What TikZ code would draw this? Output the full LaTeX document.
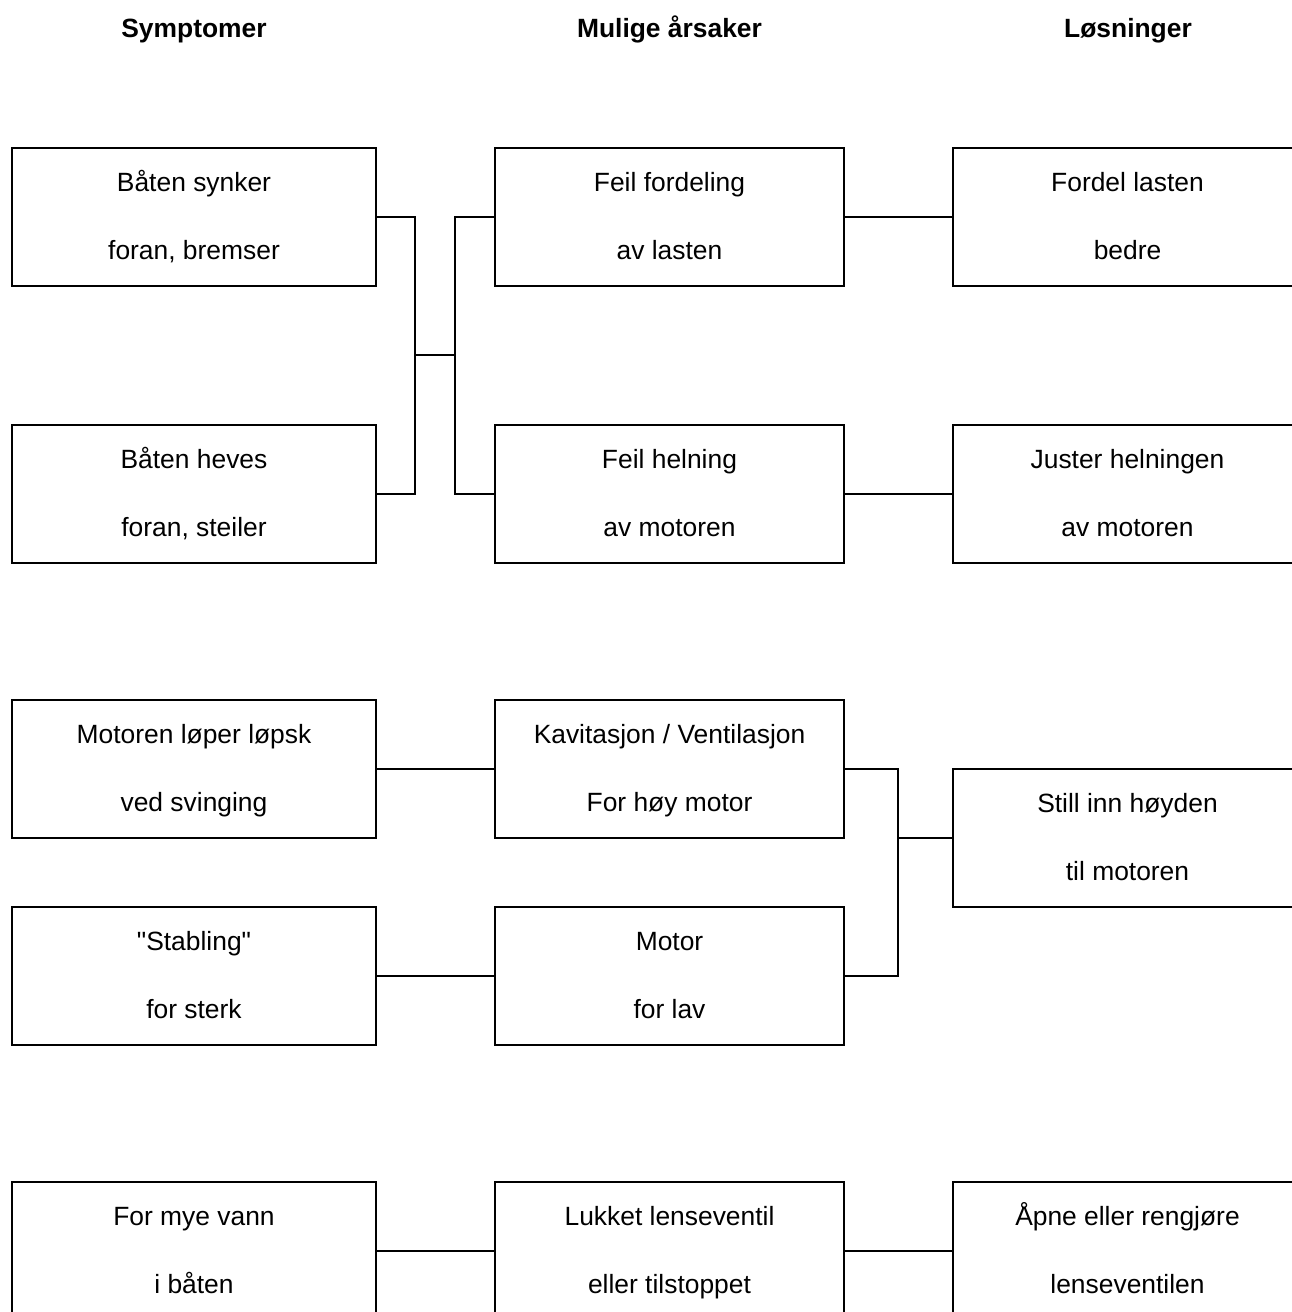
\documentclass[tikz,border=0pt]{standalone}
\usepackage{fontspec}
\setmainfont{Liberation Sans}
\newfontfamily\plainfont{Liberation Sans}[Ligatures=TeXOff]
\newcommand{\mystrut}{\rule[-8pt]{0pt}{33pt}}
\newcommand{\dq}{{\plainfont\symbol{34}}}
\begin{document}
\begin{tikzpicture}[x=1pt,y=-1pt,
  every node/.style={inner sep=0pt},
  box/.style={draw, line width=2.2pt, rectangle, minimum height=138pt, align=center,
    font=\fontsize{26.4}{68}\selectfont},
  lbox/.style={box, minimum width=364pt},
  mbox/.style={box, minimum width=349pt},
  rbox/.style={box, minimum width=349pt},
  head/.style={font=\fontsize{26.4}{30}\selectfont\bfseries, anchor=base},
  conn/.style={line width=2.2pt}]
\useasboundingbox (0,0) rectangle (1292,1312);
\clip (0,0) rectangle (1292,1312);
\fill[white] (0,0) rectangle (1292,1312);

\node[head] (h1) at (194,37.5) {Symptomer};
\node[head] (h2) at (669.5,37.5) {Mulige årsaker};
\node[head] (h3) at (1128,37.5) {Løsninger};

\node[lbox] (s1) at (194,217) {\mystrut Båten synker\\\mystrut foran, bremser};
\node[lbox] (s2) at (194,494) {\mystrut Båten heves\\\mystrut foran, steiler};
\node[lbox] (s3) at (194,769) {\mystrut Motoren løper løpsk\\\mystrut ved svinging};
\node[lbox] (s4) at (194,976) {\mystrut \dq Stabling\dq\\\mystrut for sterk};
\node[lbox] (s5) at (194,1251) {\mystrut For mye vann\\\mystrut i båten};

\node[mbox] (c1) at (669.5,217) {\mystrut Feil fordeling\\\mystrut av lasten};
\node[mbox] (c2) at (669.5,494) {\mystrut Feil helning\\\mystrut av motoren};
\node[mbox] (c3) at (669.5,769) {\mystrut Kavitasjon / Ventilasjon\\\mystrut For høy motor};
\node[mbox] (c4) at (669.5,976) {\mystrut Motor\\\mystrut for lav};
\node[mbox] (c5) at (669.5,1251) {\mystrut Lukket lenseventil\\\mystrut eller tilstoppet};

\node[rbox] (r1) at (1127.5,217) {\mystrut Fordel lasten\\\mystrut bedre};
\node[rbox] (r2) at (1127.5,494) {\mystrut Juster helningen\\\mystrut av motoren};
\node[rbox] (r3) at (1127.5,838) {\mystrut Still inn høyden\\\mystrut til motoren};
\node[rbox] (r5) at (1127.5,1251) {\mystrut Åpne eller rengjøre\\\mystrut lenseventilen};

\coordinate (j1) at (415,355);
\coordinate (j2) at (455,355);
\coordinate (j3) at (898,838);

\draw[conn] (s1.east) -| (j1) |- (s2.east);
\draw[conn] (j1) -- (j2);
\draw[conn] (c1.west) -| (j2) |- (c2.west);
\draw[conn] (c1.east) -- (r1.west);
\draw[conn] (c2.east) -- (r2.west);
\draw[conn] (s3.east) -- (c3.west);
\draw[conn] (s4.east) -- (c4.west);
\draw[conn] (c3.east) -| (j3) |- (c4.east);
\draw[conn] (j3) -- (r3.west);
\draw[conn] (s5.east) -- (c5.west);
\draw[conn] (c5.east) -- (r5.west);
\end{tikzpicture}
\end{document}
